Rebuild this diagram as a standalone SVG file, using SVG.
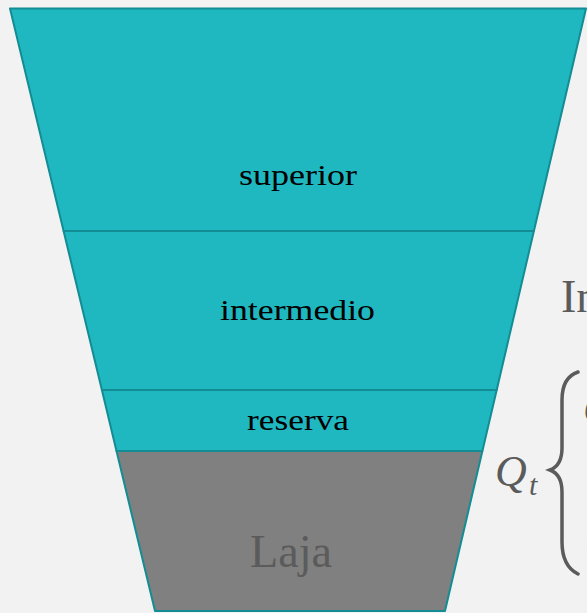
<svg xmlns="http://www.w3.org/2000/svg" width="587" height="613" viewBox="0 0 587 613">
<style>
.layer{fill:#1fb8c1;stroke:#138c93;stroke-width:2;stroke-linejoin:round}
.rock{fill:#808080;stroke:#138c93;stroke-width:2;stroke-linejoin:round}
.lbl{font-family:"Liberation Serif","Times New Roman",serif;font-size:30px;fill:#000;text-anchor:middle}
.gray{font-family:"Liberation Serif","Times New Roman",serif;fill:#5b5b5b}
.math{font-family:"Liberation Serif","Times New Roman",serif;font-style:italic;fill:#5b5b5b}
</style>
<rect width="587" height="613" fill="#f2f2f2"/>
<g id="superior">
<polygon class="layer" points="10,8.5 586,8.5 533.9,231 63.6,231"/>
<text class="lbl" x="298" y="185" textLength="118" lengthAdjust="spacingAndGlyphs">superior</text>
</g>
<g id="intermedio">
<polygon class="layer" points="63.6,231 533.9,231 496.7,390 101.9,390"/>
<text class="lbl" x="297.5" y="320" textLength="155" lengthAdjust="spacingAndGlyphs">intermedio</text>
</g>
<g id="reserva">
<polygon class="layer" points="101.9,390 496.7,390 482.4,451 116.5,451"/>
<text class="lbl" x="298" y="430" textLength="102" lengthAdjust="spacingAndGlyphs">reserva</text>
</g>
<g id="laja">
<polygon class="rock" points="116.5,451 482.4,451 445,611 155,611"/>
<text class="gray" x="291" y="567" font-size="46" text-anchor="middle" textLength="82" lengthAdjust="spacingAndGlyphs">Laja</text>
</g>
<g id="annotations">
<text class="gray" x="561" y="312" font-size="46">In</text>
<text class="math" x="495" y="486" font-size="44">Q</text>
<text class="math" x="529" y="495" font-size="30">t</text>
<path d="M578,372 C566,376 562,386 562,400 L562,448 C562,460 558,467 550,470 C558,473 562,480 562,492 L562,542 C562,556 566,568 578,574" fill="none" stroke="#5b5b5b" stroke-width="3.5" stroke-linecap="round"/>
<text class="math" x="583" y="424" font-size="44">Q</text>
<text class="math" x="585" y="556" font-size="44">Q</text>
</g>
</svg>
